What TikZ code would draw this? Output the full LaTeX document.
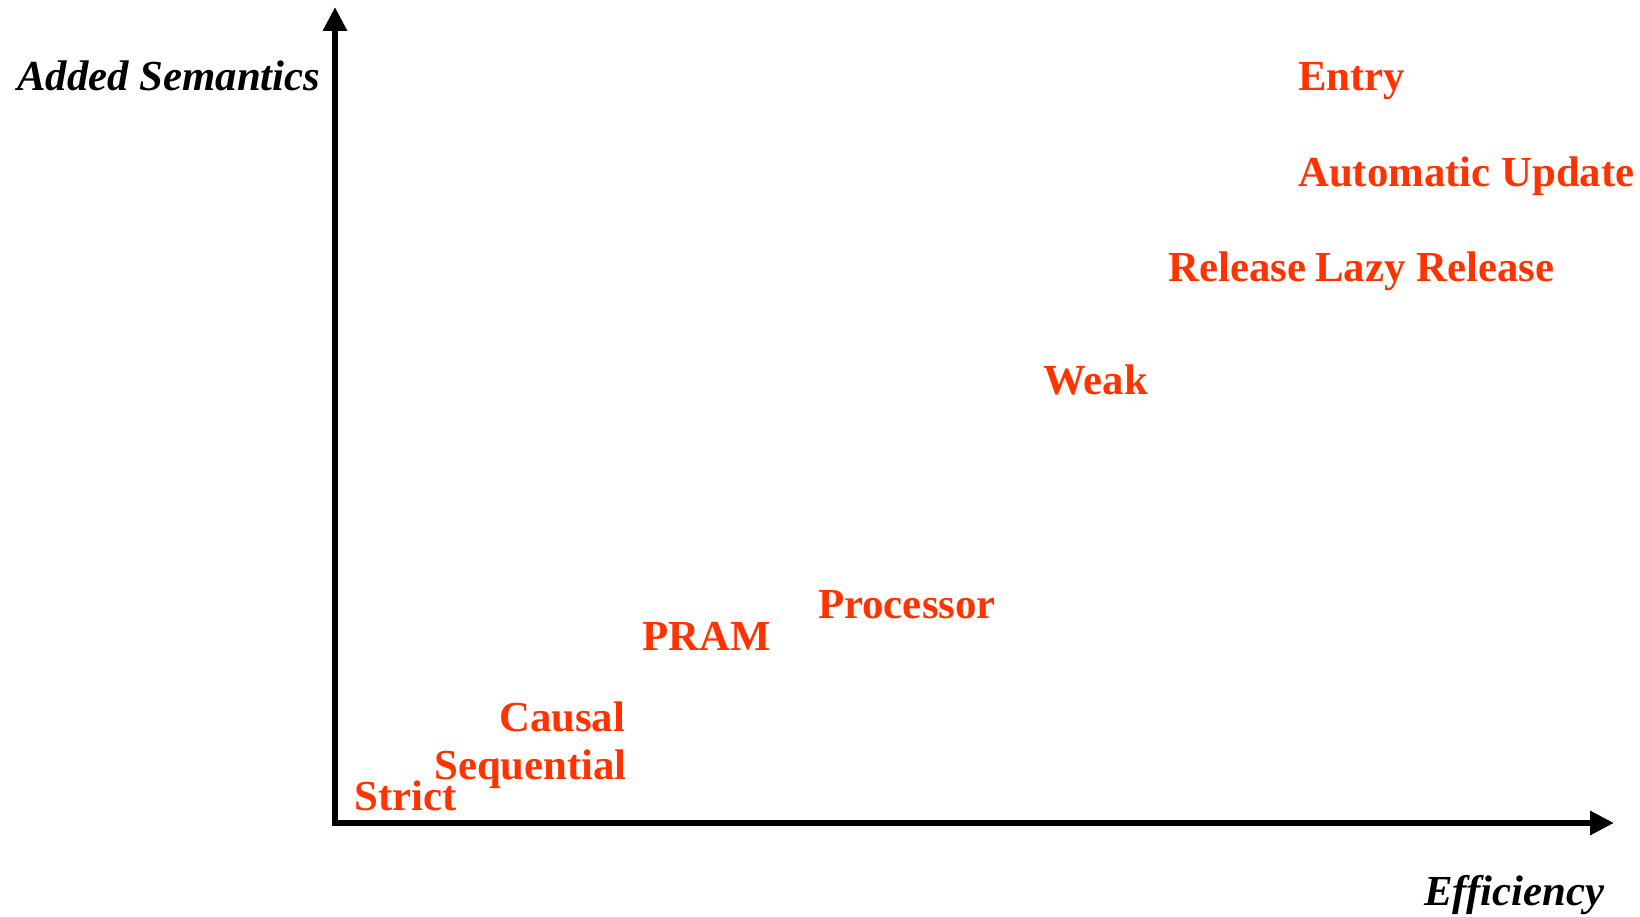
\documentclass[tikz,border=0pt]{standalone}
\usepackage{fontspec}
\setmainfont{Liberation Serif}
\usepackage{xcolor}
\definecolor{vermilion}{RGB}{255, 51,  0}
\definecolor{ink}{RGB}{  0,  0,  0}
\usepackage{tikz}
\usetikzlibrary{arrows.meta, positioning}
\tikzset{
  model/.style={anchor=base west, inner sep=0pt, text=vermilion,
    font=\fontsize{42.8}{50}\selectfont\bfseries},
  axislabel/.style={anchor=base west, inner sep=0pt, text=ink,
    font=\fontsize{42.8}{50}\selectfont\bfseries\itshape},
  axisline/.style={line width=6pt, draw=ink, line join=miter,
    {Triangle[length=24pt, width=23pt]}-{Triangle[length=24pt, width=23pt]}}
}

\begin{document}
\begin{tikzpicture}[x=1pt, y=-1pt]

  \useasboundingbox (0,0) rectangle (1640,917);

  % axes
  \coordinate (origin) at (335,823);
  \coordinate (ytip)   at (335,7);
  \coordinate (xtip)   at (1614,823);
  \draw[axisline] (ytip) -- (origin) -- (xtip);

  \node[axislabel] (semantics)  at (17,91)   {Added Semantics};
  \node[axislabel] (efficiency) at (1424,905) {Efficiency};

  % consistency models
  \node[model] (strict)     at (354,810)  {Strict};
  \node[model] (sequential) at (434,779)  {Sequential};
  \node[model] (causal)     at (499,731)  {Causal};
  \node[model] (pram)       at (642,650)  {PRAM};
  \node[model] (processor)  at (818,618)  {Processor};
  \node[model] (weak)       at (1043,394) {Weak};
  \node[model] (release)    at (1168,281) {Release};
  \node[model] (lazy)       at (1315,281) {Lazy Release};
  \node[model] (automatic)  at (1298,187) {Automatic Update};
  \node[model] (entry)      at (1298,91)  {Entry};

\end{tikzpicture}
\end{document}
